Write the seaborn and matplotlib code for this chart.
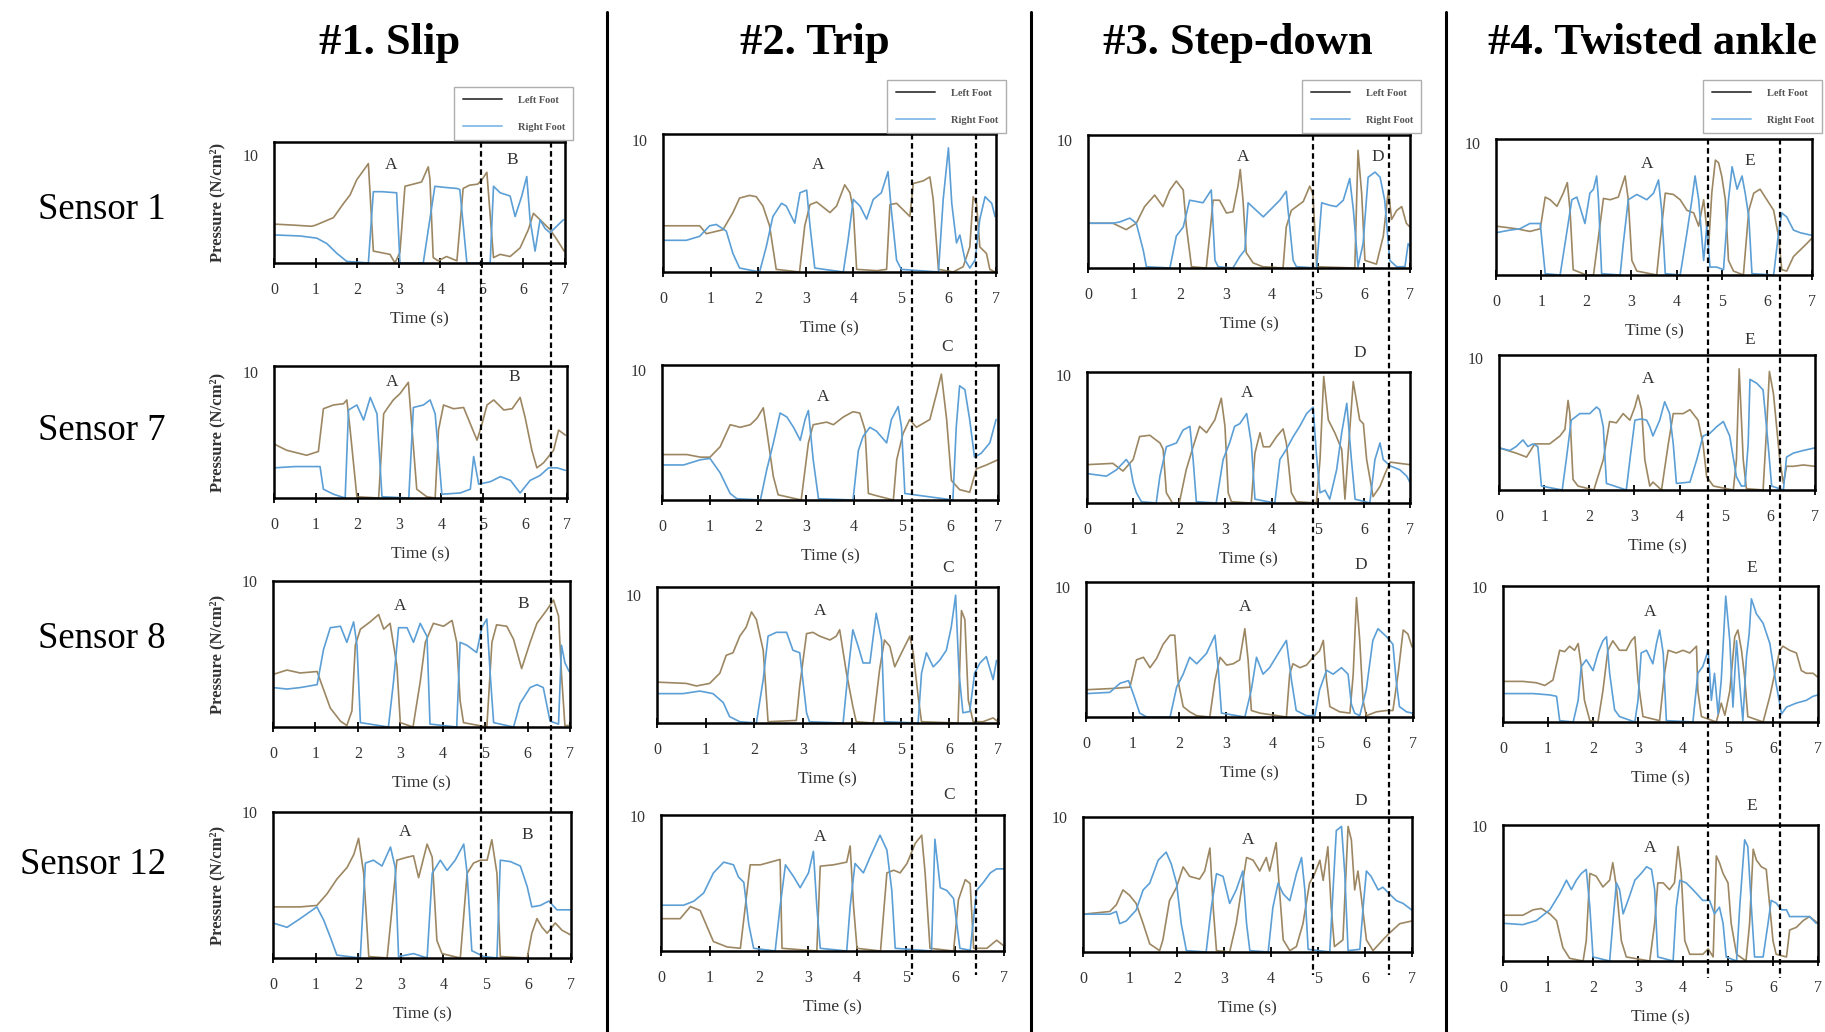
import matplotlib
matplotlib.use("Agg")
import matplotlib.pyplot as plt
from matplotlib.lines import Line2D
import pandas as pd
import seaborn as sns

# ---------------------------------------------------------------------------
# Plantar pressure traces (time in s, pressure in N/cm^2) for each scenario
# and sensor, left and right foot.
# ---------------------------------------------------------------------------
SLIP_S1_LEFT = [(0, 3.6), (0.5, 3.5), (0.9, 3.4), (1.0, 3.5), (1.43, 4.2), (1.67, 5.5), (1.83, 6.3), (1.99, 7.7),
                (2.27, 9.2), (2.39, 1.1), (2.79, 0.8), (2.91, 0.0), (3.03, 1.0), (3.15, 7.1), (3.35, 7.3), (3.55, 7.5),
                (3.71, 8.9), (3.75, 7.8), (3.83, 0.5), (3.95, 0.2), (4.15, 0.6), (4.4, 0.2), (4.55, 6.9), (4.7, 7.2),
                (4.9, 7.3), (5.0, 7.7), (5.12, 8.4), (5.28, 0.5), (5.44, 0.8), (5.68, 0.6), (5.92, 1.4), (6.12, 3.1),
                (6.24, 4.6), (6.4, 4.0), (6.64, 3.1), (6.8, 2.2), (6.98, 1.1)]
SLIP_S1_RIGHT = [(0, 2.6), (0.63, 2.5), (1.03, 2.3), (1.27, 1.8), (1.51, 0.9), (1.75, 0.15), (2.27, 0.0), (2.39, 6.6),
                 (2.6, 6.6), (2.95, 6.5), (3.03, 0.0), (3.59, 0.0), (3.87, 7.1), (4.1, 7.0), (4.4, 6.9), (4.47, 6.8),
                 (4.64, 0.0), (5.2, 0.0), (5.28, 7.1), (5.44, 6.5), (5.68, 6.2), (5.8, 4.3), (5.96, 6.2), (6.08, 8.0),
                 (6.16, 4.0), (6.28, 1.1), (6.4, 4.0), (6.52, 3.2), (6.64, 2.8), (6.8, 3.4), (6.96, 4.0)]
SLIP_S7_LEFT = [(0, 4.3), (0.3, 3.8), (0.78, 3.4), (1.06, 3.7), (1.18, 7.1), (1.42, 7.4), (1.66, 7.5), (1.74, 7.8),
                (1.82, 5.4), (1.98, 0.1), (2.5, 0.0), (2.62, 6.7), (2.7, 7.1), (2.85, 7.8), (3.01, 8.3), (3.21, 9.2),
                (3.33, 4.1), (3.41, 0.7), (3.65, 0.1), (3.85, 0.0), (3.93, 5.4), (4.05, 7.4), (4.29, 7.1), (4.53, 7.2),
                (4.69, 5.9), (4.85, 4.6), (4.97, 5.9), (5.09, 7.4), (5.25, 7.8), (5.49, 7.0), (5.69, 7.1), (5.88, 8.0),
                (6.0, 6.4), (6.16, 3.8), (6.28, 2.4), (6.44, 2.8), (6.68, 3.8), (6.8, 5.4), (6.96, 5.0)]
SLIP_S7_RIGHT = [(0, 2.4), (0.5, 2.5), (1.1, 2.5), (1.18, 0.7), (1.42, 0.3), (1.7, 0.0), (1.78, 7.0), (1.98, 7.4),
                 (2.14, 6.2), (2.3, 8.0), (2.46, 6.7), (2.58, 0.1), (3.22, 0.0), (3.33, 7.2), (3.57, 7.4), (3.73, 7.8),
                 (3.85, 6.7), (4.01, 0.3), (4.45, 0.4), (4.69, 0.7), (4.77, 3.3), (4.89, 1.1), (5.17, 1.3), (5.41, 1.7),
                 (5.65, 1.4), (5.88, 0.4), (6.12, 1.4), (6.36, 1.8), (6.56, 2.4), (6.76, 2.4), (6.96, 2.2)]
SLIP_S8_LEFT = [(0, 3.6), (0.33, 3.9), (0.64, 3.7), (1.04, 3.8), (1.15, 2.9), (1.35, 1.3), (1.59, 0.4), (1.74, 0.1),
                (1.86, 1.1), (1.94, 5.6), (2.06, 6.7), (2.29, 7.2), (2.49, 7.7), (2.61, 6.7), (2.76, 7.1), (2.92, 4.2),
                (3.0, 0.3), (3.3, 0.0), (3.47, 3.1), (3.59, 5.8), (3.78, 7.1), (4.02, 6.9), (4.22, 7.3), (4.33, 5.8),
                (4.41, 1.8), (4.49, 0.3), (5.04, 0.0), (5.16, 5.8), (5.27, 7.0), (5.51, 6.9), (5.67, 6.0), (5.86, 4.0),
                (6.06, 5.8), (6.22, 7.1), (6.45, 8.0), (6.61, 8.7), (6.73, 7.6), (6.8, 3.6), (6.88, 0.1), (6.98, 0.1)]
SLIP_S8_RIGHT = [(0, 2.7), (0.33, 2.6), (0.64, 2.7), (1.04, 2.9), (1.19, 5.3), (1.35, 6.8), (1.59, 6.9), (1.74, 5.8),
                 (1.9, 7.2), (1.98, 5.6), (2.06, 0.3), (2.72, 0.0), (2.84, 3.1), (2.96, 6.8), (3.16, 6.8), (3.31, 5.8),
                 (3.47, 7.1), (3.63, 6.2), (3.7, 0.2), (4.33, 0.0), (4.41, 5.8), (4.57, 5.6), (4.8, 5.1), (4.92, 6.8),
                 (5.04, 7.4), (5.12, 3.6), (5.2, 0.3), (5.67, 0.0), (5.82, 1.6), (6.06, 2.7), (6.22, 2.9), (6.37, 2.7),
                 (6.53, 0.4), (6.73, 0.2), (6.8, 5.6), (6.88, 4.4), (6.98, 3.8)]
SLIP_S12_LEFT = [(0, 3.5), (0.64, 3.5), (1.03, 3.6), (1.27, 4.4), (1.5, 5.4), (1.74, 6.2), (1.9, 7.1), (2.01, 8.2),
                 (2.13, 5.8), (2.25, 0.1), (2.68, 0.0), (2.8, 3.5), (2.91, 6.7), (3.15, 6.9), (3.3, 7.0), (3.42, 5.5),
                 (3.62, 7.8), (3.74, 6.9), (3.85, 1.2), (3.97, 0.3), (4.4, 0.0), (4.56, 5.8), (4.71, 6.5), (4.87, 6.7),
                 (5.03, 6.7), (5.14, 8.1), (5.26, 5.8), (5.34, 0.1), (5.97, 0.0), (6.08, 1.7), (6.2, 2.7), (6.32, 2.1),
                 (6.44, 1.7), (6.63, 2.4), (6.79, 1.9), (6.98, 1.6)]
SLIP_S12_RIGHT = [(0, 2.4), (0.33, 2.1), (0.64, 2.7), (1.03, 3.5), (1.19, 2.6), (1.35, 1.4), (1.5, 0.2), (2.05, 0.0),
                  (2.17, 6.5), (2.36, 6.7), (2.56, 6.3), (2.76, 7.6), (2.87, 6.2), (2.95, 0.1), (3.3, 0.3), (3.62, 0.0),
                  (3.74, 5.8), (3.93, 6.7), (4.09, 6.0), (4.28, 6.7), (4.48, 7.8), (4.56, 5.8), (4.67, 0.5), (4.95, 0.1),
                  (5.26, 0.0), (5.34, 6.7), (5.58, 6.6), (5.81, 6.3), (5.97, 4.9), (6.08, 3.5), (6.28, 3.6), (6.48, 3.9),
                  (6.67, 3.3), (6.98, 3.3)]

TRIP_S1_LEFT = [(0, 3.5), (0.77, 3.5), (0.91, 2.9), (1.26, 3.2), (1.47, 4.5), (1.61, 5.6), (1.82, 5.8), (1.96, 5.7),
                (2.1, 5.0), (2.24, 3.5), (2.38, 0.2), (2.87, 0.0), (2.98, 3.5), (3.09, 5.1), (3.23, 5.3), (3.51, 4.5),
                (3.65, 5.0), (3.82, 6.6), (3.93, 6.0), (4.0, 4.7), (4.07, 0.2), (4.5, 0.1), (4.7, 0.2), (4.77, 5.1),
                (4.91, 5.2), (5.05, 4.7), (5.19, 4.2), (5.26, 6.7), (5.47, 6.9), (5.61, 7.2), (5.68, 5.5), (5.79, 0.2),
                (6.1, 0.0), (6.31, 0.4), (6.45, 1.9), (6.52, 5.7), (6.59, 5.2), (6.66, 1.9), (6.8, 1.4), (6.87, 0.2),
                (6.98, 0.0)]
TRIP_S1_RIGHT = [(0, 2.4), (0.49, 2.4), (0.77, 2.7), (0.98, 3.5), (1.12, 3.6), (1.33, 3.1), (1.47, 1.4), (1.61, 0.3),
                 (2.03, 0.0), (2.17, 1.9), (2.31, 4.2), (2.49, 5.2), (2.59, 5.0), (2.7, 4.2), (2.77, 3.7), (2.88, 6.0),
                 (3.02, 6.2), (3.09, 3.5), (3.19, 0.3), (3.79, 0.0), (3.89, 2.4), (4.0, 5.5), (4.14, 5.0), (4.28, 4.0),
                 (4.42, 5.5), (4.59, 6.0), (4.73, 7.6), (4.8, 4.7), (4.91, 0.9), (5.01, 0.2), (5.79, 0.0), (5.89, 5.5),
                 (6.0, 9.4), (6.07, 5.2), (6.17, 2.2), (6.24, 2.8), (6.35, 0.9), (6.45, 0.3), (6.56, 0.9), (6.66, 4.0),
                 (6.77, 5.7), (6.91, 5.2), (6.98, 4.2)]
TRIP_S7_LEFT = [(0, 3.5), (0.52, 3.5), (0.8, 3.3), (1.0, 3.3), (1.21, 4.1), (1.42, 5.8), (1.63, 5.6), (1.84, 5.8),
                (1.98, 6.3), (2.11, 7.1), (2.18, 5.4), (2.32, 1.8), (2.42, 0.4), (2.9, 0.0), (3.05, 4.4), (3.15, 5.8),
                (3.43, 6.0), (3.57, 5.8), (3.78, 6.4), (3.98, 6.8), (4.12, 6.7), (4.23, 5.4), (4.3, 0.5), (4.5, 0.3),
                (4.82, 0.0), (4.89, 3.1), (5.02, 5.1), (5.16, 6.2), (5.3, 5.6), (5.58, 6.2), (5.72, 8.2), (5.82, 9.7),
                (5.93, 6.2), (6.03, 1.5), (6.2, 0.8), (6.41, 0.6), (6.55, 2.4), (6.76, 2.7), (7.0, 3.1)]
TRIP_S7_RIGHT = [(0, 2.7), (0.45, 2.7), (0.8, 3.1), (1.0, 3.2), (1.21, 2.1), (1.42, 0.5), (1.56, 0.1), (2.05, 0.0),
                 (2.18, 2.3), (2.32, 4.4), (2.46, 6.7), (2.6, 6.4), (2.74, 5.6), (2.88, 4.6), (2.98, 6.2), (3.05, 6.9),
                 (3.15, 3.1), (3.26, 0.1), (3.98, 0.0), (4.09, 3.8), (4.19, 4.9), (4.33, 5.6), (4.47, 5.3), (4.68, 4.4),
                 (4.78, 6.2), (4.92, 7.2), (4.99, 5.6), (5.06, 0.5), (6.06, 0.0), (6.13, 5.6), (6.2, 8.8), (6.31, 8.5),
                 (6.41, 6.2), (6.51, 3.3), (6.65, 3.6), (6.83, 4.4), (6.96, 6.2)]
TRIP_S8_LEFT = [(0, 3.2), (0.6, 3.1), (0.81, 2.9), (1.08, 3.1), (1.29, 3.9), (1.42, 5.3), (1.56, 5.5), (1.7, 6.8),
                (1.83, 7.5), (1.94, 8.7), (2.04, 8.1), (2.18, 5.7), (2.28, 0.1), (2.86, 0.2), (2.93, 2.9), (3.07, 7.0),
                (3.2, 7.1), (3.34, 6.8), (3.55, 6.5), (3.68, 6.8), (3.75, 7.3), (3.89, 3.9), (4.02, 1.3), (4.09, 0.1),
                (4.44, 0.0), (4.57, 4.2), (4.67, 6.5), (4.78, 6.0), (4.88, 4.4), (5.02, 5.5), (5.19, 6.8), (5.26, 5.5),
                (5.36, 2.1), (5.43, 0.1), (6.18, 0.0), (6.25, 8.8), (6.32, 8.1), (6.39, 1.8), (6.49, 0.1), (6.69, 0.1),
                (6.9, 0.4), (7.0, 0.1)]
TRIP_S8_RIGHT = [(0, 2.3), (0.53, 2.3), (0.88, 2.5), (1.15, 2.3), (1.36, 1.6), (1.49, 0.5), (1.7, 0.1), (2.04, 0.0),
                 (2.18, 3.4), (2.28, 6.8), (2.45, 7.1), (2.66, 7.1), (2.79, 5.7), (2.93, 5.5), (3.07, 0.8), (3.13, 0.1),
                 (3.82, 0.0), (3.92, 3.9), (4.02, 7.3), (4.13, 6.0), (4.23, 4.7), (4.37, 4.7), (4.5, 8.6), (4.61, 6.5),
                 (4.67, 0.1), (5.36, 0.0), (5.43, 3.9), (5.53, 5.5), (5.67, 4.4), (5.8, 4.9), (5.94, 5.7), (6.04, 7.5),
                 (6.13, 10.0), (6.2, 3.9), (6.28, 0.8), (6.42, 0.9), (6.52, 3.9), (6.63, 4.7), (6.76, 5.2), (6.9, 3.4),
                 (6.97, 4.9)]
TRIP_S12_LEFT = [(0, 2.4), (0.39, 2.4), (0.6, 3.3), (0.8, 3.0), (0.94, 1.8), (1.07, 0.7), (1.35, 0.3), (1.62, 0.2),
                 (1.72, 3.3), (1.82, 6.4), (2.03, 6.4), (2.23, 6.6), (2.43, 6.8), (2.47, 0.2), (3.18, 0.0), (3.25, 6.3),
                 (3.52, 6.4), (3.79, 6.6), (3.86, 7.8), (3.93, 3.3), (4.0, 0.2), (4.48, 0.0), (4.61, 5.8), (4.75, 6.0),
                 (4.88, 5.8), (5.02, 6.5), (5.19, 8.0), (5.32, 8.6), (5.39, 5.8), (5.49, 0.2), (5.97, 0.0), (6.07, 3.8),
                 (6.21, 5.3), (6.31, 5.0), (6.38, 0.2), (6.65, 0.2), (6.85, 0.8), (6.99, 0.4)]
TRIP_S12_RIGHT = [(0, 3.4), (0.46, 3.4), (0.67, 3.7), (0.87, 4.3), (1.07, 5.8), (1.28, 6.6), (1.48, 6.4), (1.58, 5.5),
                  (1.69, 5.1), (1.79, 2.0), (1.89, 0.2), (2.33, 0.0), (2.43, 3.3), (2.54, 6.4), (2.71, 5.5), (2.84, 4.7),
                  (3.01, 5.8), (3.11, 7.4), (3.18, 3.3), (3.25, 0.2), (3.79, 0.0), (3.86, 3.3), (3.96, 6.5), (4.13, 5.8),
                  (4.27, 7.0), (4.47, 8.6), (4.61, 7.5), (4.71, 4.5), (4.78, 0.2), (5.52, 0.0), (5.59, 8.3), (5.7, 4.7),
                  (5.83, 4.5), (5.97, 3.9), (6.1, 0.2), (6.31, 0.05), (6.44, 4.5), (6.58, 5.1), (6.72, 5.8), (6.85, 6.1),
                  (6.99, 6.1)]

STEP_S1_LEFT = [(0, 3.5), (0.54, 3.5), (0.83, 3.0), (1.05, 3.5), (1.23, 4.8), (1.45, 5.7), (1.63, 4.8), (1.78, 6.1),
                (1.92, 6.8), (2.07, 6.1), (2.14, 3.2), (2.25, 0.1), (2.57, 0.0), (2.65, 2.7), (2.72, 5.3), (2.86, 5.3),
                (3.01, 4.3), (3.15, 4.4), (3.26, 6.4), (3.31, 7.7), (3.37, 5.3), (3.44, 1.2), (3.59, 0.4), (3.8, 0.1),
                (4.24, 0.0), (4.31, 3.2), (4.42, 4.5), (4.53, 4.8), (4.68, 5.2), (4.82, 6.4), (4.89, 5.8), (4.97, 0.1),
                (5.8, 0.0), (5.84, 5.3), (5.87, 9.2), (5.95, 5.8), (6.02, 0.6), (6.27, 0.3), (6.42, 2.5), (6.53, 6.1),
                (6.6, 3.8), (6.71, 4.5), (6.82, 4.8), (6.92, 3.5), (7.0, 3.2)]
STEP_S1_RIGHT = [(0, 3.5), (0.54, 3.5), (0.69, 3.6), (0.91, 3.9), (1.05, 3.5), (1.2, 1.4), (1.27, 0.1), (1.78, 0.0),
                 (1.92, 2.5), (2.07, 3.2), (2.21, 5.3), (2.36, 5.2), (2.5, 5.1), (2.68, 6.1), (2.76, 0.6), (2.83, 0.1),
                 (3.15, 0.0), (3.3, 0.9), (3.41, 1.4), (3.48, 5.1), (3.66, 4.5), (3.81, 4.0), (3.95, 4.5), (4.17, 5.3),
                 (4.31, 6.0), (4.35, 4.5), (4.46, 0.6), (4.53, 0.1), (4.97, 0.0), (5.08, 5.1), (5.26, 4.9), (5.4, 4.8),
                 (5.55, 5.3), (5.69, 7.0), (5.77, 4.5), (5.87, 0.1), (5.98, 1.9), (6.09, 7.1), (6.24, 7.5), (6.35, 7.1),
                 (6.45, 5.3), (6.56, 0.6), (6.71, 0.1), (6.89, 0.1), (6.96, 1.9), (7.0, 1.7)]
STEP_S7_LEFT = [(0, 3.0), (0.56, 3.1), (0.78, 2.5), (1.0, 3.4), (1.14, 5.2), (1.36, 5.3), (1.58, 4.7), (1.65, 4.2),
                (1.72, 0.8), (1.85, 0.0), (2.0, 0.0), (2.15, 2.6), (2.3, 4.4), (2.44, 6.0), (2.59, 5.5), (2.77, 6.5),
                (2.91, 8.2), (2.99, 6.0), (3.06, 0.8), (3.13, 0.1), (3.56, 0.0), (3.64, 3.9), (3.75, 5.5), (3.82, 4.4),
                (3.96, 4.4), (4.11, 5.2), (4.25, 5.8), (4.32, 4.7), (4.43, 0.8), (4.54, 0.1), (4.97, 0.0), (5.05, 3.4),
                (5.13, 9.9), (5.23, 6.5), (5.37, 5.5), (5.52, 4.2), (5.59, 0.3), (5.7, 6.0), (5.77, 9.5), (5.91, 6.5),
                (5.99, 6.2), (6.06, 3.4), (6.2, 0.5), (6.35, 1.3), (6.46, 2.3), (6.57, 3.2), (6.78, 3.1), (7.0, 3.0)]
STEP_S7_RIGHT = [(0, 2.3), (0.42, 2.1), (0.64, 2.6), (0.85, 3.4), (0.93, 3.0), (1.0, 1.6), (1.07, 0.8), (1.18, 0.1),
                 (1.5, 0.0), (1.58, 2.1), (1.72, 4.4), (1.94, 4.7), (2.08, 5.7), (2.23, 6.0), (2.3, 3.4), (2.37, 0.1),
                 (2.8, 0.0), (2.95, 3.4), (3.09, 4.7), (3.2, 6.0), (3.31, 6.2), (3.46, 7.0), (3.56, 4.7), (3.64, 0.3),
                 (4.07, 0.0), (4.18, 3.4), (4.32, 4.2), (4.47, 5.2), (4.61, 6.0), (4.76, 7.0), (4.9, 7.5), (4.97, 3.9),
                 (5.05, 0.8), (5.16, 1.0), (5.26, 0.3), (5.41, 2.6), (5.52, 5.5), (5.63, 7.8), (5.73, 3.4), (5.81, 0.3),
                 (6.13, 0.0), (6.24, 3.4), (6.35, 4.7), (6.42, 3.4), (6.57, 2.9), (6.78, 2.6), (6.93, 2.1), (7.0, 1.6)]
STEP_S8_LEFT = [(0, 2.1), (0.58, 2.2), (0.94, 2.3), (1.08, 4.4), (1.23, 4.6), (1.37, 3.8), (1.51, 4.5), (1.65, 5.6),
                (1.8, 6.3), (1.9, 6.3), (1.97, 2.8), (2.08, 0.8), (2.22, 0.4), (2.37, 0.1), (2.65, 0.0), (2.76, 2.8),
                (2.87, 4.6), (3.01, 4.0), (3.15, 4.1), (3.29, 4.4), (3.4, 6.8), (3.47, 4.4), (3.54, 0.5), (3.72, 0.3),
                (4.29, 0.0), (4.36, 3.3), (4.43, 4.1), (4.58, 3.8), (4.72, 4.0), (4.86, 4.6), (5.0, 5.1), (5.08, 5.9),
                (5.15, 2.8), (5.22, 0.8), (5.43, 0.4), (5.65, 0.3), (5.72, 3.3), (5.79, 9.2), (5.86, 5.9), (5.93, 1.3),
                (6.0, 0.1), (6.22, 0.4), (6.43, 0.5), (6.57, 0.5), (6.68, 3.3), (6.79, 6.7), (6.89, 6.4), (6.98, 5.4)]
STEP_S8_RIGHT = [(0, 1.8), (0.51, 1.9), (0.73, 2.6), (0.91, 2.8), (1.01, 1.8), (1.15, 0.3), (1.3, 0.0), (1.8, 0.0),
                 (1.94, 2.3), (2.08, 3.3), (2.22, 4.6), (2.37, 4.1), (2.58, 4.9), (2.76, 6.3), (2.83, 3.8), (2.9, 0.3),
                 (3.4, 0.0), (3.54, 2.1), (3.65, 4.6), (3.79, 3.3), (3.93, 3.8), (4.15, 5.1), (4.29, 5.9), (4.4, 2.8),
                 (4.5, 0.5), (4.72, 0.1), (4.9, 0.1), (5.0, 2.1), (5.15, 3.6), (5.29, 3.3), (5.47, 3.8), (5.61, 3.3),
                 (5.68, 1.0), (5.75, 0.3), (5.86, 0.1), (6.0, 2.1), (6.14, 5.9), (6.25, 6.8), (6.43, 6.2), (6.57, 5.6),
                 (6.64, 2.8), (6.71, 0.8), (6.86, 0.4), (6.98, 0.3)]
STEP_S12_LEFT = [(0, 2.8), (0.57, 3.0), (0.71, 3.5), (0.85, 4.6), (0.99, 4.2), (1.13, 3.6), (1.28, 2.1), (1.42, 0.6),
                 (1.63, 0.1), (1.7, 0.9), (1.84, 3.8), (1.99, 4.8), (2.13, 6.3), (2.27, 5.6), (2.48, 5.4), (2.59, 6.0),
                 (2.7, 7.7), (2.77, 3.3), (2.84, 0.1), (3.12, 0.0), (3.26, 2.1), (3.37, 4.6), (3.48, 7.0), (3.62, 6.8),
                 (3.76, 6.0), (3.9, 7.0), (3.97, 6.0), (4.11, 8.1), (4.18, 4.6), (4.26, 0.9), (4.4, 0.1), (4.54, 0.4),
                 (4.68, 2.1), (4.82, 5.1), (4.93, 5.8), (5.04, 6.8), (5.11, 5.3), (5.21, 7.8), (5.28, 3.3), (5.35, 0.4),
                 (5.53, 0.9), (5.64, 9.3), (5.71, 8.3), (5.78, 4.6), (5.85, 6.0), (5.92, 4.1), (6.03, 0.9), (6.17, 0.1),
                 (6.38, 0.9), (6.52, 1.4), (6.74, 2.1), (7.0, 2.3)]
STEP_S12_RIGHT = [(0, 2.8), (0.57, 2.8), (0.71, 3.0), (0.78, 2.1), (0.92, 2.3), (1.13, 3.1), (1.28, 4.6), (1.42, 5.1),
                  (1.6, 6.8), (1.77, 7.4), (1.88, 6.5), (1.99, 5.1), (2.09, 2.1), (2.2, 0.1), (2.62, 0.0), (2.73, 3.3),
                  (2.84, 5.8), (2.98, 5.6), (3.12, 3.6), (3.26, 4.6), (3.4, 6.0), (3.48, 2.1), (3.55, 0.1), (3.94, 0.0),
                  (4.04, 3.3), (4.15, 5.1), (4.26, 4.3), (4.4, 3.8), (4.54, 5.8), (4.65, 7.0), (4.72, 4.6), (4.79, 0.2),
                  (5.25, 0.0), (5.32, 4.6), (5.39, 9.0), (5.5, 9.3), (5.57, 5.8), (5.64, 0.1), (5.89, 0.2), (5.96, 3.3),
                  (6.03, 6.0), (6.13, 5.6), (6.28, 4.6), (6.38, 4.8), (6.52, 4.3), (6.67, 3.8), (6.81, 3.6), (7.0, 3.1)]

TWIST_S1_LEFT = [(0, 3.7), (0.46, 3.5), (0.75, 3.3), (0.98, 3.5), (1.09, 5.9), (1.2, 5.7), (1.35, 5.2), (1.49, 6.2),
                 (1.58, 7.0), (1.64, 4.9), (1.71, 0.4), (2.0, 0.0), (2.16, 0.0), (2.27, 2.9), (2.38, 5.8), (2.53, 5.7),
                 (2.71, 5.9), (2.86, 7.5), (2.93, 5.7), (3.01, 1.1), (3.12, 0.3), (3.56, 0.0), (3.67, 3.7), (3.75, 6.2),
                 (3.93, 6.1), (4.08, 5.7), (4.23, 4.9), (4.38, 4.7), (4.49, 3.7), (4.6, 5.7), (4.71, 2.2), (4.78, 6.2),
                 (4.86, 8.7), (4.93, 8.5), (5.0, 7.5), (5.08, 5.7), (5.15, 1.1), (5.26, 0.3), (5.48, 0.0), (5.6, 4.9),
                 (5.71, 6.2), (5.85, 6.5), (6.0, 5.7), (6.15, 4.9), (6.26, 2.9), (6.33, 0.4), (6.44, 0.3), (6.59, 1.4),
                 (6.74, 1.9), (6.89, 2.4), (7.0, 2.8)]
TWIST_S1_RIGHT = [(0, 3.2), (0.31, 3.4), (0.53, 3.5), (0.75, 3.9), (0.98, 3.9), (1.09, 0.1), (1.42, 0.0), (1.53, 2.4),
                  (1.68, 5.7), (1.79, 5.9), (1.9, 4.7), (1.97, 3.9), (2.08, 6.2), (2.16, 6.5), (2.23, 7.5), (2.27, 5.7),
                  (2.34, 0.1), (2.75, 0.0), (2.82, 2.4), (2.93, 5.7), (3.12, 6.1), (3.34, 5.7), (3.49, 6.2), (3.6, 7.2),
                  (3.67, 4.9), (3.75, 0.1), (4.08, 0.0), (4.23, 3.2), (4.34, 5.7), (4.41, 7.5), (4.49, 5.7), (4.6, 1.1),
                  (4.67, 3.7), (4.74, 0.6), (4.89, 0.6), (5.04, 0.4), (5.15, 5.7), (5.23, 8.2), (5.34, 6.5), (5.45, 7.5),
                  (5.52, 6.2), (5.6, 4.4), (5.67, 0.1), (6.15, 0.0), (6.26, 3.2), (6.33, 4.7), (6.44, 4.4), (6.59, 3.4),
                  (6.74, 3.2), (7.0, 3.0)]
TWIST_S7_LEFT = [(0, 3.2), (0.38, 2.8), (0.61, 2.5), (0.79, 3.5), (1.12, 3.5), (1.35, 4.1), (1.46, 4.6), (1.53, 6.8),
                 (1.57, 5.8), (1.64, 0.8), (1.75, 0.3), (2.1, 0.0), (2.31, 2.3), (2.45, 5.2), (2.6, 5.1), (2.75, 5.8),
                 (2.9, 5.3), (3.01, 6.3), (3.08, 7.2), (3.16, 6.1), (3.23, 2.3), (3.34, 0.3), (3.41, 0.6), (3.6, 0.0),
                 (3.75, 3.5), (3.86, 5.8), (4.08, 5.8), (4.23, 6.1), (4.41, 5.3), (4.52, 3.5), (4.6, 1.0), (4.75, 0.3),
                 (5.19, 0.0), (5.26, 2.3), (5.32, 9.2), (5.41, 2.3), (5.48, 0.1), (5.85, 0.0), (5.93, 4.8), (5.99, 9.0),
                 (6.08, 7.3), (6.22, 2.3), (6.3, 0.5), (6.37, 1.8), (6.52, 1.8), (6.74, 1.9), (7.0, 1.8)]
TWIST_S7_RIGHT = [(0, 3.2), (0.24, 3.0), (0.38, 3.3), (0.53, 3.8), (0.64, 3.3), (0.75, 3.5), (0.86, 3.3), (0.94, 0.3),
                  (1.4, 0.0), (1.49, 2.3), (1.6, 5.3), (1.79, 5.8), (2.01, 5.8), (2.16, 6.3), (2.23, 6.1), (2.31, 4.8),
                  (2.38, 0.5), (2.82, 0.0), (2.9, 2.3), (3.01, 5.3), (3.16, 5.4), (3.27, 5.3), (3.34, 4.8), (3.41, 4.1),
                  (3.56, 5.3), (3.67, 6.7), (3.78, 5.8), (3.86, 3.5), (3.93, 0.5), (4.23, 0.6), (4.38, 2.3), (4.52, 4.1),
                  (4.67, 4.3), (4.82, 4.8), (4.97, 5.2), (5.11, 4.1), (5.26, 1.0), (5.37, 0.3), (5.45, 0.3), (5.52, 3.5),
                  (5.56, 8.4), (5.71, 8.1), (5.85, 7.6), (5.96, 3.5), (6.04, 0.3), (6.3, 0.0), (6.37, 2.5), (6.52, 2.8),
                  (6.74, 3.0), (7.0, 3.2)]
TWIST_S8_LEFT = [(0, 3.0), (0.44, 3.0), (0.74, 2.9), (0.93, 2.7), (1.11, 3.1), (1.26, 5.3), (1.37, 5.2), (1.48, 5.6),
                 (1.59, 5.3), (1.67, 5.8), (1.74, 4.1), (1.81, 1.6), (1.93, 0.1), (2.11, 0.0), (2.22, 2.3), (2.33, 5.3),
                 (2.44, 6.0), (2.59, 5.3), (2.74, 5.3), (2.85, 6.0), (2.93, 6.3), (3.0, 3.1), (3.11, 0.4), (3.48, 0.1),
                 (3.59, 3.6), (3.67, 5.3), (3.85, 5.1), (4.0, 5.3), (4.15, 5.1), (4.3, 5.6), (4.33, 2.3), (4.41, 0.4),
                 (4.74, 0.0), (4.85, 1.4), (4.93, 0.5), (5.04, 2.3), (5.15, 6.3), (5.22, 6.8), (5.3, 5.3), (5.37, 3.3),
                 (5.44, 0.4), (5.78, 0.0), (5.93, 1.9), (6.04, 3.6), (6.15, 5.3), (6.22, 5.6), (6.37, 5.3), (6.52, 5.1),
                 (6.63, 3.8), (6.74, 3.6), (6.89, 3.6), (7.0, 3.3)]
TWIST_S8_RIGHT = [(0, 2.1), (0.67, 2.1), (1.04, 2.0), (1.19, 1.9), (1.26, 0.1), (1.56, 0.0), (1.67, 1.6), (1.74, 4.1),
                  (1.85, 4.6), (2.0, 3.8), (2.11, 5.1), (2.22, 6.0), (2.3, 6.3), (2.37, 3.6), (2.48, 0.9), (2.59, 0.4),
                  (2.93, 0.0), (3.0, 1.6), (3.07, 5.1), (3.19, 5.3), (3.33, 4.3), (3.41, 5.8), (3.48, 6.8), (3.56, 5.1),
                  (3.63, 0.1), (4.22, 0.0), (4.33, 3.6), (4.44, 4.1), (4.56, 5.3), (4.63, 1.6), (4.7, 3.6), (4.78, 0.6),
                  (4.85, 3.1), (4.95, 9.3), (5.04, 6.0), (5.11, 1.1), (5.19, 6.0), (5.26, 2.8), (5.33, 0.1), (5.41, 4.8),
                  (5.47, 6.5), (5.52, 9.1), (5.63, 8.0), (5.78, 7.3), (5.93, 5.8), (6.07, 2.8), (6.19, 0.6), (6.3, 1.1),
                  (6.52, 1.4), (6.74, 1.6), (6.89, 1.9), (7.0, 2.0)]
TWIST_S12_LEFT = [(0, 3.4), (0.44, 3.4), (0.67, 3.8), (0.85, 3.9), (1.04, 3.5), (1.19, 3.0), (1.33, 1.0), (1.48, 0.2),
                  (1.78, 0.0), (1.85, 1.5), (1.93, 6.5), (2.07, 6.3), (2.22, 5.5), (2.37, 6.0), (2.44, 7.3), (2.52, 5.5),
                  (2.63, 1.5), (2.74, 0.3), (3.26, 0.0), (3.37, 2.8), (3.44, 5.8), (3.56, 5.8), (3.7, 5.3), (3.81, 5.8),
                  (3.89, 8.5), (3.96, 6.5), (4.04, 1.5), (4.15, 0.5), (4.44, 0.5), (4.56, 0.9), (4.67, 0.3), (4.74, 7.8),
                  (4.81, 7.3), (4.89, 6.5), (5.0, 5.8), (5.07, 2.8), (5.19, 0.5), (5.4, 0.0), (5.48, 2.8), (5.56, 8.3),
                  (5.63, 7.5), (5.74, 7.0), (5.85, 6.8), (5.93, 4.0), (6.0, 1.5), (6.07, 0.5), (6.3, 0.3), (6.37, 2.3),
                  (6.52, 2.5), (6.67, 3.0), (6.81, 3.3), (7.0, 2.8)]
TWIST_S12_RIGHT = [(0, 2.8), (0.44, 2.7), (0.74, 3.0), (1.04, 3.8), (1.26, 5.0), (1.41, 6.0), (1.52, 5.3), (1.63, 6.0),
                   (1.74, 6.5), (1.85, 6.8), (1.93, 4.0), (2.0, 0.3), (2.37, 0.0), (2.44, 2.8), (2.52, 5.8), (2.59, 5.3),
                   (2.67, 3.5), (2.81, 4.8), (2.93, 6.0), (3.07, 6.5), (3.19, 7.0), (3.3, 6.8), (3.37, 5.3), (3.44, 0.3),
                   (3.78, 0.0), (3.85, 4.0), (3.93, 6.0), (4.07, 5.8), (4.22, 5.3), (4.44, 4.5), (4.59, 4.5), (4.7, 3.5),
                   (4.81, 4.0), (4.89, 2.8), (4.96, 0.3), (5.19, 0.0), (5.26, 4.0), (5.37, 9.0), (5.44, 8.5), (5.52, 4.0),
                   (5.59, 0.3), (5.78, 0.3), (5.89, 2.8), (5.96, 4.5), (6.07, 4.3), (6.19, 3.8), (6.3, 3.8), (6.37, 3.3),
                   (6.59, 3.3), (6.81, 3.3), (6.96, 2.8)]

SCENARIOS = ["#1. Slip", "#2. Trip", "#3. Step-down", "#4. Twisted ankle"]
SENSORS = ["Sensor 1", "Sensor 7", "Sensor 8", "Sensor 12"]
FEET = ["Left Foot", "Right Foot"]
TIME_TICKS = [0, 1, 2, 3, 4, 5, 6, 7]

TRACES = [
    [(SLIP_S1_LEFT, SLIP_S1_RIGHT), (SLIP_S7_LEFT, SLIP_S7_RIGHT),
     (SLIP_S8_LEFT, SLIP_S8_RIGHT), (SLIP_S12_LEFT, SLIP_S12_RIGHT)],
    [(TRIP_S1_LEFT, TRIP_S1_RIGHT), (TRIP_S7_LEFT, TRIP_S7_RIGHT),
     (TRIP_S8_LEFT, TRIP_S8_RIGHT), (TRIP_S12_LEFT, TRIP_S12_RIGHT)],
    [(STEP_S1_LEFT, STEP_S1_RIGHT), (STEP_S7_LEFT, STEP_S7_RIGHT),
     (STEP_S8_LEFT, STEP_S8_RIGHT), (STEP_S12_LEFT, STEP_S12_RIGHT)],
    [(TWIST_S1_LEFT, TWIST_S1_RIGHT), (TWIST_S7_LEFT, TWIST_S7_RIGHT),
     (TWIST_S8_LEFT, TWIST_S8_RIGHT), (TWIST_S12_LEFT, TWIST_S12_RIGHT)],
]

# Event window boundaries (s) per scenario
EVENT_TIMES = [(4.98, 6.66), (5.23, 6.58), (4.89, 6.54), (4.70, 6.29)]

# Phase letters: (letter, time, pressure) per panel
PHASE_MARKS = [
    [[("A", 2.81, 9.1), ("B", 5.73, 9.5)], [("A", 2.82, 9.2), ("B", 5.73, 9.6)],
     [("A", 3.0, 8.3), ("B", 5.89, 8.4)], [("A", 3.11, 8.6), ("B", 5.97, 8.4)]],
    [[("A", 3.26, 8.1)], [("A", 3.35, 7.9), ("C", 5.93, 11.8)],
     [("A", 3.34, 8.8), ("C", 5.98, 12.1)], [("A", 3.25, 8.5), ("C", 5.87, 11.6)]],
    [[("A", 3.37, 8.7), ("D", 6.31, 8.7)], [("A", 3.46, 8.6), ("D", 5.91, 11.7)],
     [("A", 3.4, 8.5), ("D", 5.89, 11.7)], [("A", 3.51, 8.3), ("D", 5.92, 11.2)]],
    [[("A", 3.34, 8.4), ("E", 5.63, 8.6)], [("A", 3.3, 8.4), ("E", 5.56, 11.4)],
     [("A", 3.26, 8.1), ("E", 5.52, 11.4)], [("A", 3.26, 8.4), ("E", 5.52, 11.5)]],
]

# ---------------------------------------------------------------------------
# Layout (pixels on a 1825 x 1032 canvas)
# ---------------------------------------------------------------------------
W, H = 1825, 1032
PANEL_BOX = [  # (left, top, right, bottom)
    [(274, 142, 565, 263), (274, 366, 567, 498), (273, 581, 570, 727), (273, 812, 571, 958)],
    [(663, 134, 996, 272), (662, 365, 998, 500), (657, 587, 998, 723), (661, 815, 1004, 951)],
    [(1088, 135, 1410, 268), (1087, 372, 1410, 503), (1086, 582, 1413, 717), (1083, 817, 1412, 952)],
    [(1496, 139, 1812, 275), (1499, 355, 1815, 490), (1503, 586, 1818, 722), (1503, 825, 1818, 961)],
]
Y_TOP = [
    [11.2, 10.5, 10.0, 10.0],
    [10.45, 10.4, 10.65, 10.1],
    [10.4, 10.25, 10.4, 10.0],
    [10.3, 10.25, 10.05, 10.1],
]
TITLE_X = [390, 815, 1238, 1652]
SEPARATOR_X = [607, 1031, 1446]
LEGEND_ANCHOR = [(449, 82), (882, 75), (1297, 75), (1698, 75)]
EVENT_LINE_BOTTOM = [960, 975, 975, 978]
SENSOR_Y = [210, 431, 639, 865]

LEFT_COLOR = "#9c8762"
RIGHT_COLOR = "#5b9fd6"

sns.set_theme(style="white")
plt.rcParams["font.family"] = ["Liberation Serif", "DejaVu Serif"]
plt.rcParams["axes.linewidth"] = 1.8

fig = plt.figure(figsize=(W / 100, H / 100), dpi=100)
fig.patch.set_facecolor("white")


def fig_rect(box):
    l, t, r, b = box
    return [l / W, 1 - b / H, (r - l) / W, (b - t) / H]


def trace_frame(left, right):
    rows = [(t, p, FEET[0]) for t, p in left] + [(t, p, FEET[1]) for t, p in right]
    return pd.DataFrame(rows, columns=["time", "pressure", "foot"])


top_axes = []
for c in range(4):
    for r in range(4):
        ax = fig.add_axes(fig_rect(PANEL_BOX[c][r]))
        left, right = TRACES[c][r]
        sns.lineplot(data=trace_frame(left, right), x="time", y="pressure", hue="foot",
                     hue_order=FEET, palette=[LEFT_COLOR, RIGHT_COLOR], estimator=None,
                     sort=False, legend=False, linewidth=1.2, ax=ax)
        ax.set_xlim(0, 7)
        ax.set_ylim(0, Y_TOP[c][r])
        ax.set_xticks(TIME_TICKS)
        ax.set_xticklabels([str(v) for v in TIME_TICKS])
        ax.set_yticks([10])
        ax.set_yticklabels(["10"])
        ax.tick_params(axis="x", direction="inout", length=7, width=1.3, color="black",
                       labelsize=11.5, labelcolor="#333333", pad=10, bottom=True)
        ax.tick_params(axis="y", length=0, labelsize=11.5, labelcolor="#333333", pad=11)
        for sp in ax.spines.values():
            sp.set_color("black")
            sp.set_linewidth(1.8)
        ax.set_xlabel("Time (s)", fontsize=12.5, color="#333333", labelpad=10)
        ax.set_ylabel("")
        ax.set_facecolor("white")
        for letter, t, p in PHASE_MARKS[c][r]:
            ax.text(t, p, letter, ha="center", va="center", fontsize=12.5,
                    color="#333333", clip_on=False)
        if r == 0:
            top_axes.append(ax)
        if c == 0:
            l, t_, rr, b = PANEL_BOX[c][r]
            fig.text(217 / W, 1 - (t_ + b) / 2 / H, "Pressure (N/cm²)", rotation=90,
                     ha="center", va="center", fontsize=12, fontweight="bold",
                     color="#333333")

# Event window boundaries spanning all sensors of a scenario
inv = fig.transFigure.inverted()
for c, ax in enumerate(top_axes):
    for t in EVENT_TIMES[c]:
        xf = inv.transform(ax.transData.transform((t, 0)))[0]
        y0 = 1 - PANEL_BOX[c][0][1] / H
        y1 = 1 - EVENT_LINE_BOTTOM[c] / H
        fig.add_artist(Line2D([xf, xf], [y0, y1], transform=fig.transFigure,
                              color="black", linewidth=1.6, linestyle=(0, (2.5, 1.6)),
                              zorder=5))

# Scenario column separators
for x in SEPARATOR_X:
    fig.add_artist(Line2D([x / W, x / W], [1 - 12 / H, 0], transform=fig.transFigure,
                          color="black", linewidth=2.2))

# Scenario titles
for c, title in enumerate(SCENARIOS):
    fig.text(TITLE_X[c] / W, 1 - 43 / H, title, ha="center", va="center",
             fontsize=32, fontweight="bold", color="black")

# Sensor row labels
for r, name in enumerate(SENSORS):
    fig.text(166 / W, 1 - SENSOR_Y[r] / H, name, ha="right", va="center",
             fontsize=26.5, color="black")

# Foot legends above each scenario column
for c in range(4):
    handles = [Line2D([], [], color="#4a4a4a", linewidth=1.4),
               Line2D([], [], color="#8cc0ea", linewidth=1.4)]
    lx, ly = LEGEND_ANCHOR[c]
    leg = fig.legend(handles, FEET, loc="upper left", bbox_to_anchor=(lx / W, 1 - ly / H),
                     bbox_transform=fig.transFigure, frameon=True,
                     fancybox=False, edgecolor="#9a9a9a", handlelength=3.8,
                     handletextpad=1.5, labelspacing=1.7, borderpad=0.8,
                     prop={"weight": "bold", "size": 7.5})
    leg.get_frame().set_linewidth(1.0)
    for txt in leg.get_texts():
        txt.set_color("#555555")

fig.savefig("out.png", dpi=100, facecolor="white")
